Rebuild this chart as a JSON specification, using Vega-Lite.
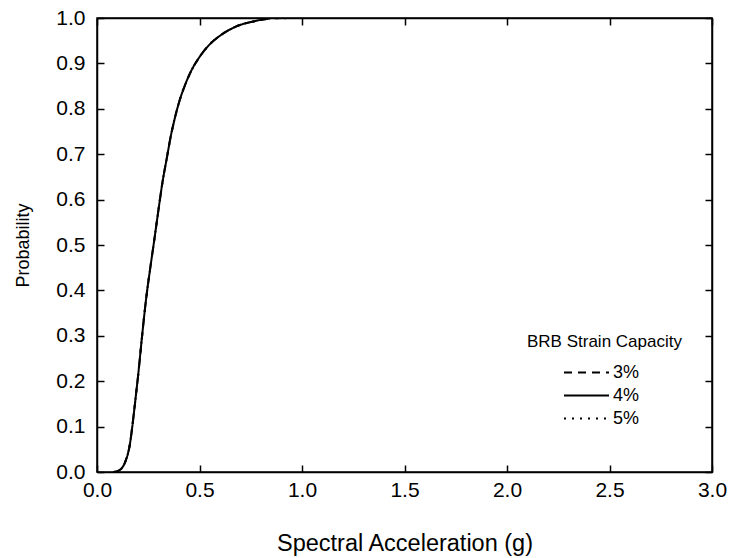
{
  "$schema": "https://vega.github.io/schema/vega-lite/v6.json",
  "autosize": {"type": "none"},
  "padding": {"left": 97, "top": 18, "right": 22, "bottom": 86},
  "width": 615,
  "height": 454,
  "background": "white",
  "config": {
    "font": "Liberation Sans",
    "view": {"stroke": "black", "strokeWidth": 1.5},
    "axis": {
      "domainColor": "black",
      "domainWidth": 1.5,
      "tickColor": "black",
      "tickWidth": 1.5,
      "tickSize": -7,
      "grid": false,
      "labelColor": "black",
      "titleColor": "black",
      "labelFontSize": 21,
      "labelFont": "Liberation Sans",
      "titleFont": "Liberation Sans",
      "titleFontWeight": "normal"
    },
    "legend": {
      "titleFont": "Liberation Sans",
      "labelFont": "Liberation Sans",
      "titleFontWeight": "normal"
    }
  },
  "data": {
    "values": [
      {"capacity": "3%", "sa": 0.08, "p": 0.0},
      {"capacity": "3%", "sa": 0.10, "p": 0.002},
      {"capacity": "3%", "sa": 0.12, "p": 0.008},
      {"capacity": "3%", "sa": 0.14, "p": 0.025},
      {"capacity": "3%", "sa": 0.16, "p": 0.06},
      {"capacity": "3%", "sa": 0.17, "p": 0.092},
      {"capacity": "3%", "sa": 0.18, "p": 0.13},
      {"capacity": "3%", "sa": 0.19, "p": 0.17},
      {"capacity": "3%", "sa": 0.20, "p": 0.21},
      {"capacity": "3%", "sa": 0.22, "p": 0.3},
      {"capacity": "3%", "sa": 0.24, "p": 0.383},
      {"capacity": "3%", "sa": 0.26, "p": 0.45},
      {"capacity": "3%", "sa": 0.28, "p": 0.513},
      {"capacity": "3%", "sa": 0.30, "p": 0.578},
      {"capacity": "3%", "sa": 0.32, "p": 0.64},
      {"capacity": "3%", "sa": 0.34, "p": 0.69},
      {"capacity": "3%", "sa": 0.36, "p": 0.74},
      {"capacity": "3%", "sa": 0.38, "p": 0.78},
      {"capacity": "3%", "sa": 0.40, "p": 0.814},
      {"capacity": "3%", "sa": 0.43, "p": 0.853},
      {"capacity": "3%", "sa": 0.46, "p": 0.884},
      {"capacity": "3%", "sa": 0.50, "p": 0.914},
      {"capacity": "3%", "sa": 0.55, "p": 0.942},
      {"capacity": "3%", "sa": 0.60, "p": 0.961},
      {"capacity": "3%", "sa": 0.65, "p": 0.975},
      {"capacity": "3%", "sa": 0.70, "p": 0.985},
      {"capacity": "3%", "sa": 0.75, "p": 0.991},
      {"capacity": "3%", "sa": 0.80, "p": 0.996},
      {"capacity": "3%", "sa": 0.85, "p": 0.999},
      {"capacity": "3%", "sa": 0.92, "p": 1.0},
      {"capacity": "5%", "sa": 0.08, "p": 0.0},
      {"capacity": "5%", "sa": 0.10, "p": 0.002},
      {"capacity": "5%", "sa": 0.12, "p": 0.008},
      {"capacity": "5%", "sa": 0.14, "p": 0.025},
      {"capacity": "5%", "sa": 0.16, "p": 0.06},
      {"capacity": "5%", "sa": 0.17, "p": 0.092},
      {"capacity": "5%", "sa": 0.18, "p": 0.13},
      {"capacity": "5%", "sa": 0.19, "p": 0.17},
      {"capacity": "5%", "sa": 0.20, "p": 0.21},
      {"capacity": "5%", "sa": 0.22, "p": 0.3},
      {"capacity": "5%", "sa": 0.24, "p": 0.383},
      {"capacity": "5%", "sa": 0.26, "p": 0.45},
      {"capacity": "5%", "sa": 0.28, "p": 0.513},
      {"capacity": "5%", "sa": 0.30, "p": 0.578},
      {"capacity": "5%", "sa": 0.32, "p": 0.64},
      {"capacity": "5%", "sa": 0.34, "p": 0.69},
      {"capacity": "5%", "sa": 0.36, "p": 0.74},
      {"capacity": "5%", "sa": 0.38, "p": 0.78},
      {"capacity": "5%", "sa": 0.40, "p": 0.814},
      {"capacity": "5%", "sa": 0.43, "p": 0.853},
      {"capacity": "5%", "sa": 0.46, "p": 0.884},
      {"capacity": "5%", "sa": 0.50, "p": 0.914},
      {"capacity": "5%", "sa": 0.55, "p": 0.942},
      {"capacity": "5%", "sa": 0.60, "p": 0.961},
      {"capacity": "5%", "sa": 0.65, "p": 0.975},
      {"capacity": "5%", "sa": 0.70, "p": 0.985},
      {"capacity": "5%", "sa": 0.75, "p": 0.991},
      {"capacity": "5%", "sa": 0.80, "p": 0.996},
      {"capacity": "5%", "sa": 0.85, "p": 0.999},
      {"capacity": "5%", "sa": 0.98, "p": 1.0},
      {"capacity": "4%", "sa": 0.08, "p": 0.0},
      {"capacity": "4%", "sa": 0.10, "p": 0.002},
      {"capacity": "4%", "sa": 0.12, "p": 0.008},
      {"capacity": "4%", "sa": 0.14, "p": 0.025},
      {"capacity": "4%", "sa": 0.16, "p": 0.06},
      {"capacity": "4%", "sa": 0.17, "p": 0.092},
      {"capacity": "4%", "sa": 0.18, "p": 0.13},
      {"capacity": "4%", "sa": 0.19, "p": 0.17},
      {"capacity": "4%", "sa": 0.20, "p": 0.21},
      {"capacity": "4%", "sa": 0.22, "p": 0.3},
      {"capacity": "4%", "sa": 0.24, "p": 0.383},
      {"capacity": "4%", "sa": 0.26, "p": 0.45},
      {"capacity": "4%", "sa": 0.28, "p": 0.513},
      {"capacity": "4%", "sa": 0.30, "p": 0.578},
      {"capacity": "4%", "sa": 0.32, "p": 0.64},
      {"capacity": "4%", "sa": 0.34, "p": 0.69},
      {"capacity": "4%", "sa": 0.36, "p": 0.74},
      {"capacity": "4%", "sa": 0.38, "p": 0.78},
      {"capacity": "4%", "sa": 0.40, "p": 0.814},
      {"capacity": "4%", "sa": 0.43, "p": 0.853},
      {"capacity": "4%", "sa": 0.46, "p": 0.884},
      {"capacity": "4%", "sa": 0.50, "p": 0.914},
      {"capacity": "4%", "sa": 0.55, "p": 0.942},
      {"capacity": "4%", "sa": 0.60, "p": 0.961},
      {"capacity": "4%", "sa": 0.65, "p": 0.975},
      {"capacity": "4%", "sa": 0.70, "p": 0.985},
      {"capacity": "4%", "sa": 0.75, "p": 0.991},
      {"capacity": "4%", "sa": 0.80, "p": 0.996},
      {"capacity": "4%", "sa": 0.83, "p": 0.998}
    ]
  },
  "layer": [
    {
      "mark": {"type": "line", "color": "black", "strokeWidth": 2, "interpolate": "monotone", "clip": true},
      "encoding": {
        "x": {
          "field": "sa", "type": "quantitative",
          "scale": {"domain": [0, 3], "nice": false, "zero": false},
          "axis": {"orient": "bottom", "values": [0, 0.5, 1, 1.5, 2, 2.5, 3], "format": ".1f", "labelPadding": 14, "labelFlush": false,
                   "title": "Spectral Acceleration (g)", "titleFontSize": 23.5, "titlePadding": 31}
        },
        "y": {
          "field": "p", "type": "quantitative",
          "scale": {"domain": [0, 1], "nice": false},
          "axis": {"orient": "left", "values": [0, 0.1, 0.2, 0.3, 0.4, 0.5, 0.6, 0.7, 0.8, 0.9, 1.0], "format": ".1f", "labelPadding": 19, "labelFlush": false,
                   "title": "Probability", "titleFontSize": 18, "titlePadding": 23}
        },
        "strokeDash": {
          "field": "capacity", "type": "nominal",
          "scale": {"domain": ["3%", "4%", "5%"], "range": [[8, 6], [1, 0], [2, 6]]},
          "legend": {
            "title": "BRB Strain Capacity",
            "orient": "none",
            "legendX": 430,
            "legendY": 316,
            "padding": 0,
            "titleFontSize": 17,
            "titlePadding": 10,
            "labelFontSize": 18,
            "labelOffset": 3,
            "symbolType": "stroke",
            "symbolSize": 2025,
            "symbolStrokeColor": "black",
            "symbolStrokeWidth": 1.8,
            "symbolOffset": 36,
            "clipHeight": 23,
            "rowPadding": 0
          }
        }
      }
    },
    {
      "mark": {"type": "line", "opacity": 0, "clip": true},
      "encoding": {
        "x": {
          "field": "sa", "type": "quantitative",
          "axis": {"orient": "top", "values": [0, 0.5, 1, 1.5, 2, 2.5, 3], "labels": false, "title": null}
        },
        "y": {
          "field": "p", "type": "quantitative",
          "axis": {"orient": "right", "values": [0, 0.1, 0.2, 0.3, 0.4, 0.5, 0.6, 0.7, 0.8, 0.9, 1.0], "labels": false, "title": null}
        },
        "detail": {"field": "capacity", "type": "nominal"}
      }
    }
  ],
  "resolve": {"axis": {"x": "independent", "y": "independent"}}
}
